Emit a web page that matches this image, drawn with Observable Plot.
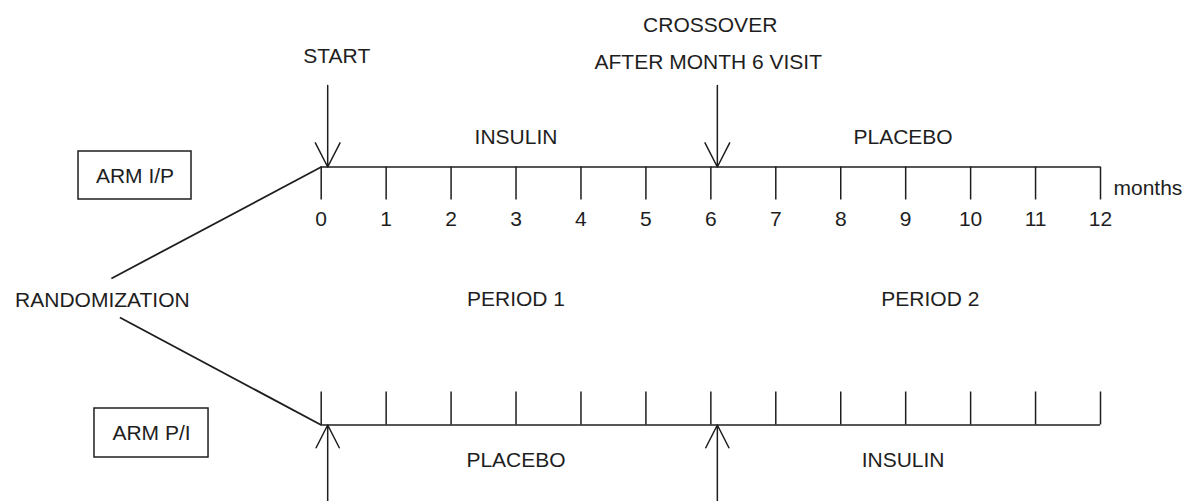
<!DOCTYPE html>
<html>
<head>
<meta charset="utf-8">
<script src="https://cdn.jsdelivr.net/npm/d3@7"></script>
<script src="https://cdn.jsdelivr.net/npm/@observablehq/plot@0.6"></script>
<style>
  html, body { margin: 0; padding: 0; background: #fff; }
  svg { display: block; }
</style>
</head>
<body>
<div id="chart"></div>
<script>
// ---- Data ----
const months = [0, 1, 2, 3, 4, 5, 6, 7, 8, 9, 10, 11, 12];
const tickLabels = ["0", "1", "2", "3", "4", "5", "6", "7", "8", "9", "10", "11", "12"];
const arms = ["ARM I/P", "ARM P/I"];
const period1Treatment = ["INSULIN", "PLACEBO"];
const period2Treatment = ["PLACEBO", "INSULIN"];
const periods = ["PERIOD 1", "PERIOD 2"];
const events = ["START", "CROSSOVER"];
const eventMonths = [0, 6];
const crossoverNote = "AFTER MONTH 6 VISIT";
const unitLabel = "months";
const startLabel = "RANDOMIZATION";

// ---- Layout (in scale units: x = months, y = vertical layout units) ----
const ink = "#1e1e1e";
const font = "Liberation Sans, Arial, Helvetica, sans-serif";
const yTop = 166.5, yBot = 424.5;
const armRows = [
  {arm: arms[0], y: yTop, tickY1: yTop, tickY2: yTop + 33, box: [-3.737, -1.997, 151, 199], boxY: 175.5,
   t1: period1Treatment[0], t2: period2Treatment[0], tY: 137, arrowFrom: 85, diag: [-3.23, 278]},
  {arm: arms[1], y: yBot, tickY1: yBot - 33, tickY2: yBot, box: [-3.491, -1.735, 408, 457], boxY: 433,
   t1: period1Treatment[1], t2: period2Treatment[1], tY: 460, arrowFrom: 501, diag: [-3.10, 317]}
];

const ticks = [];
for (const r of armRows) for (const m of months) ticks.push({m, y1: r.tickY1, y2: r.tickY2});

const arrows = [];
for (const r of armRows) for (const e of eventMonths) arrows.push({x: e + 0.1, y1: r.arrowFrom, y2: r.y});

const topTexts = [
  {text: events[0], x: eventMonths[0] + 0.24, y: 55.5},
  {text: events[1], x: eventMonths[1] - 0.01, y: 24.5},
  {text: crossoverNote, x: eventMonths[1] - 0.04, y: 61.5}
];

const treatTexts = [];
for (const r of armRows) {
  treatTexts.push({text: r.t1, x: 3.0, y: r.tY});
  treatTexts.push({text: r.t2, x: 8.96, y: r.tY});
}
const periodTexts = [
  {text: periods[0], x: 3.0, y: 298.5},
  {text: periods[1], x: 9.38, y: 298.5}
];

const chart = Plot.plot({
  width: 1184,
  height: 501,
  margin: 0,
  style: {background: "#fff", fontFamily: font},
  x: {domain: [0, 12], range: [320.7, 1100], axis: null},
  y: {domain: [0, 501], range: [0, 501], axis: null},
  marks: [
    // timelines
    Plot.ruleY(armRows, {y: "y", x1: 0, x2: 12, stroke: ink, strokeWidth: 1.6}),
    // month ticks
    Plot.ruleX(ticks, {x: "m", y1: "y1", y2: "y2", stroke: ink, strokeWidth: 1.5}),
    // randomization branches
    Plot.link(armRows, {x1: d => d.diag[0], y1: d => d.diag[1], x2: 0, y2: "y", stroke: ink, strokeWidth: 1.8}),
    // event arrows
    Plot.arrow(arrows, {x1: "x", y1: "y1", x2: "x", y2: "y2", stroke: ink, strokeWidth: 1.5,
      headAngle: 54, headLength: 33, insetEnd: 0}),
    // arm boxes
    Plot.rect(armRows, {x1: d => d.box[0], x2: d => d.box[1], y1: d => d.box[2], y2: d => d.box[3],
      fill: "none", stroke: ink, strokeWidth: 1.5}),
    Plot.text(armRows, {x: d => (d.box[0] + d.box[1]) / 2, y: "boxY", text: "arm", fontSize: 21, fill: ink}),
    // month tick labels
    Plot.text(months, {x: d => d, y: 219, text: (d, i) => tickLabels[i], fontSize: 21, fill: ink}),
    Plot.text([unitLabel], {x: 12.2, y: 188, text: d => d, textAnchor: "start", fontSize: 21, fill: ink}),
    // randomization
    Plot.text([startLabel], {x: -3.37, y: 300, text: d => d, fontSize: 21, fill: ink}),
    // event labels
    Plot.text(topTexts, {x: "x", y: "y", text: "text", fontSize: 21, fill: ink}),
    // treatments & periods
    Plot.text(treatTexts, {x: "x", y: "y", text: "text", fontSize: 21, fill: ink}),
    Plot.text(periodTexts, {x: "x", y: "y", text: "text", fontSize: 21, fill: ink})
  ]
});
document.getElementById("chart").append(chart);
</script>
</body>
</html>
